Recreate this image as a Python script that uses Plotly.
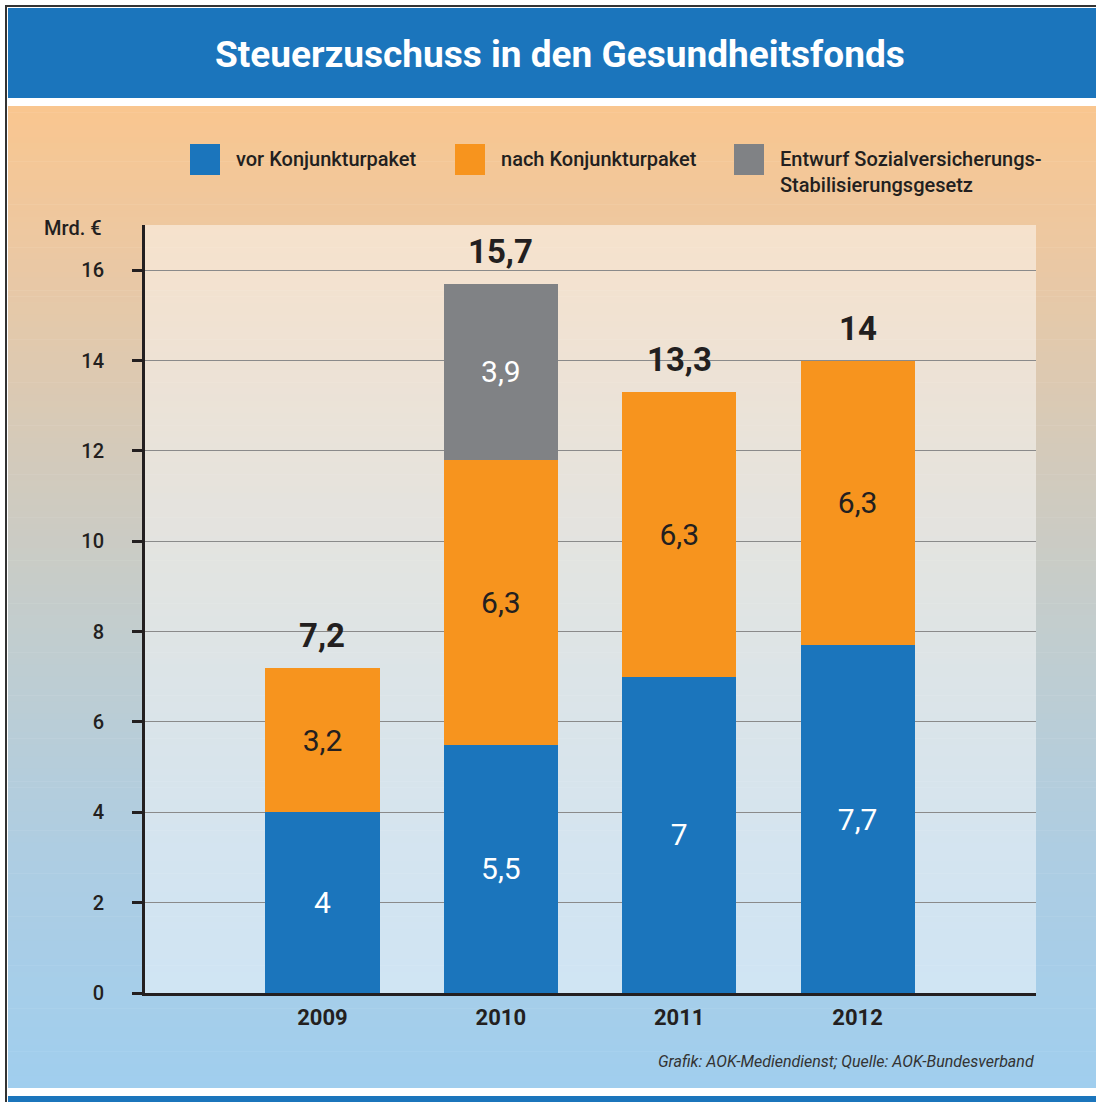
import plotly.graph_objects as go

# ---- data ----
years = ["2009", "2010", "2011", "2012"]
vor = [4.0, 5.5, 7.0, 7.7]
nach = [3.2, 6.3, 6.3, 6.3]
entwurf = [None, 3.9, None, None]
totals = [7.2, 15.7, 13.3, 14.0]
series_names = ["vor Konjunkturpaket", "nach Konjunkturpaket",
                "Entwurf Sozialversicherungs-<br>Stabilisierungsgesetz"]
y_ticks = [0, 2, 4, 6, 8, 10, 12, 14, 16]
title_text = "Steuerzuschuss in den Gesundheitsfonds"
unit_text = "Mrd. €"
source_text = "Grafik: AOK-Mediendienst; Quelle: AOK-Bundesverband"

BLUE = "#1B75BC"
ORANGE = "#F7941E"
GRAY = "#808285"
DARK = "#231F20"
FONT = "Roboto, Liberation Sans, sans-serif"

W, H = 1096, 1102
L, R, T, B = 145, 1036, 225, 993


def px(x):
    return (x - L) / (R - L)


def py(y):
    return (B - y) / (B - T)


def fmt(v):
    if v is None:
        return ""
    s = ("%.1f" % v).rstrip("0").rstrip(".")
    return s.replace(".", ",")


xpos = list(range(len(years)))

fig = go.Figure()
fig.add_bar(x=xpos, y=vor, name=series_names[0], marker_color=BLUE, width=0.64,
            text=[fmt(v) for v in vor], textposition="inside", insidetextanchor="middle",
            textfont=dict(color="white", size=30, family=FONT), showlegend=False)
fig.add_bar(x=xpos, y=nach, name=series_names[1], marker_color=ORANGE, width=0.64,
            text=[fmt(v) for v in nach], textposition="inside", insidetextanchor="middle",
            textfont=dict(color=DARK, size=30, family=FONT), showlegend=False)
fig.add_bar(x=xpos, y=entwurf, name=series_names[2], marker_color=GRAY, width=0.64,
            text=[fmt(v) for v in entwurf], textposition="inside", insidetextanchor="middle",
            textfont=dict(color="white", size=30, family=FONT), showlegend=False)
for tr in fig.data:
    tr.marker.line.width = 0
    tr.constraintext = "none"

shapes = []
# outer dark border lines
shapes.append(dict(type="rect", xref="paper", yref="paper", x0=px(6), x1=px(W + 2), y0=py(6), y1=py(H + 2),
                   line=dict(color="#333333", width=2), fillcolor="white", layer="below"))
# title bar
shapes.append(dict(type="rect", xref="paper", yref="paper", x0=px(8), x1=px(W + 2), y0=py(8), y1=py(98),
                   line=dict(width=0), fillcolor=BLUE, layer="below"))
# bottom blue band
shapes.append(dict(type="rect", xref="paper", yref="paper", x0=px(8), x1=px(W + 2), y0=py(1096), y1=py(H + 2),
                   line=dict(width=0), fillcolor=BLUE, layer="below"))

# gradient background (style only)
stops = [(106, (249, 198, 143)), (250, (236, 200, 162)), (450, (212, 202, 186)),
         (650, (192, 205, 208)), (850, (174, 205, 226)), (1088, (160, 206, 238))]


def col_at(y):
    for (y0, c0), (y1, c1) in zip(stops[:-1], stops[1:]):
        if y0 <= y <= y1:
            t = (y - y0) / (y1 - y0)
            return "rgb(%d,%d,%d)" % tuple(round(a + (b - a) * t) for a, b in zip(c0, c1))
    return "rgb(%d,%d,%d)" % stops[-1][1]


n = 160
g0, g1 = 106, 1088
step = (g1 - g0) / n
for i in range(n):
    y0 = g0 + i * step
    y1 = y0 + step + 0.6
    shapes.append(dict(type="rect", xref="paper", yref="paper", x0=px(8), x1=px(W + 2),
                       y0=py(y0), y1=py(min(y1, g1)), line=dict(width=0),
                       fillcolor=col_at(y0 + step / 2), layer="below"))
# lighter plot area overlay
shapes.append(dict(type="rect", xref="paper", yref="paper", x0=0, x1=1, y0=0, y1=1,
                   line=dict(width=0), fillcolor="rgba(255,255,255,0.47)", layer="below"))

# custom legend
legend_items = [(190, series_names[0], BLUE), (455, series_names[1], ORANGE), (734, series_names[2], GRAY)]
annotations = []
for x0, name, c in legend_items:
    shapes.append(dict(type="rect", xref="paper", yref="paper", x0=px(x0), x1=px(x0 + 30),
                       y0=py(144), y1=py(175), line=dict(width=0), fillcolor=c, layer="above"))
    annotations.append(dict(xref="paper", yref="paper", x=px(x0 + 44), y=py(145), text=name,
                            showarrow=False, xanchor="left", yanchor="top", align="left",
                            font=dict(size=20, color=DARK, family=FONT, weight=500)))

# totals above bars
for xi, tot in zip(xpos, totals):
    annotations.append(dict(x=xi, y=tot, xref="x", yref="y", text="<b>%s</b>" % fmt(tot),
                            showarrow=False, yanchor="bottom", yshift=11,
                            font=dict(size=33, color=DARK, family=FONT)))

annotations.append(dict(xref="paper", yref="paper", x=px(W / 2 + 12), y=py(54), text="<b>%s</b>" % title_text,
                        showarrow=False, xanchor="center", yanchor="middle",
                        font=dict(size=37, color="white", family=FONT)))
annotations.append(dict(xref="paper", yref="paper", x=px(104), y=py(228), text=unit_text,
                        showarrow=False, xanchor="right", yanchor="middle",
                        font=dict(size=20, color=DARK, family=FONT, weight=500)))
annotations.append(dict(xref="paper", yref="paper", x=px(1036), y=py(1061), text="<i>%s</i>" % source_text,
                        showarrow=False, xanchor="right", yanchor="middle",
                        font=dict(size=16, color="#333333", family=FONT)))

fig.update_layout(
    width=W, height=H, barmode="stack",
    margin=dict(l=L, r=W - R, t=T, b=H - B, pad=0),
    paper_bgcolor="white", plot_bgcolor="rgba(0,0,0,0)",
    shapes=shapes, annotations=annotations, showlegend=False,
    font=dict(family=FONT, color=DARK),
    xaxis=dict(range=[-0.995, 4.0], tickvals=xpos, ticktext=["<b>%s</b>" % y for y in years],
               tickfont=dict(size=22, color=DARK, family=FONT), showgrid=False, zeroline=False,
               showline=True, linecolor=DARK, linewidth=3, ticks="", ticklabelstandoff=3),
    yaxis=dict(range=[0, 17], tickvals=y_ticks, ticktext=[str(v) for v in y_ticks],
               tickfont=dict(size=20, color=DARK, family=FONT, weight=500), showgrid=True, gridcolor="#8a8a8a",
               gridwidth=1, zeroline=False, showline=True, linecolor=DARK, linewidth=3,
               ticks="outside", ticklen=10, tickwidth=3, tickcolor=DARK, ticklabelstandoff=24),
)

fig.write_html("out.html")
